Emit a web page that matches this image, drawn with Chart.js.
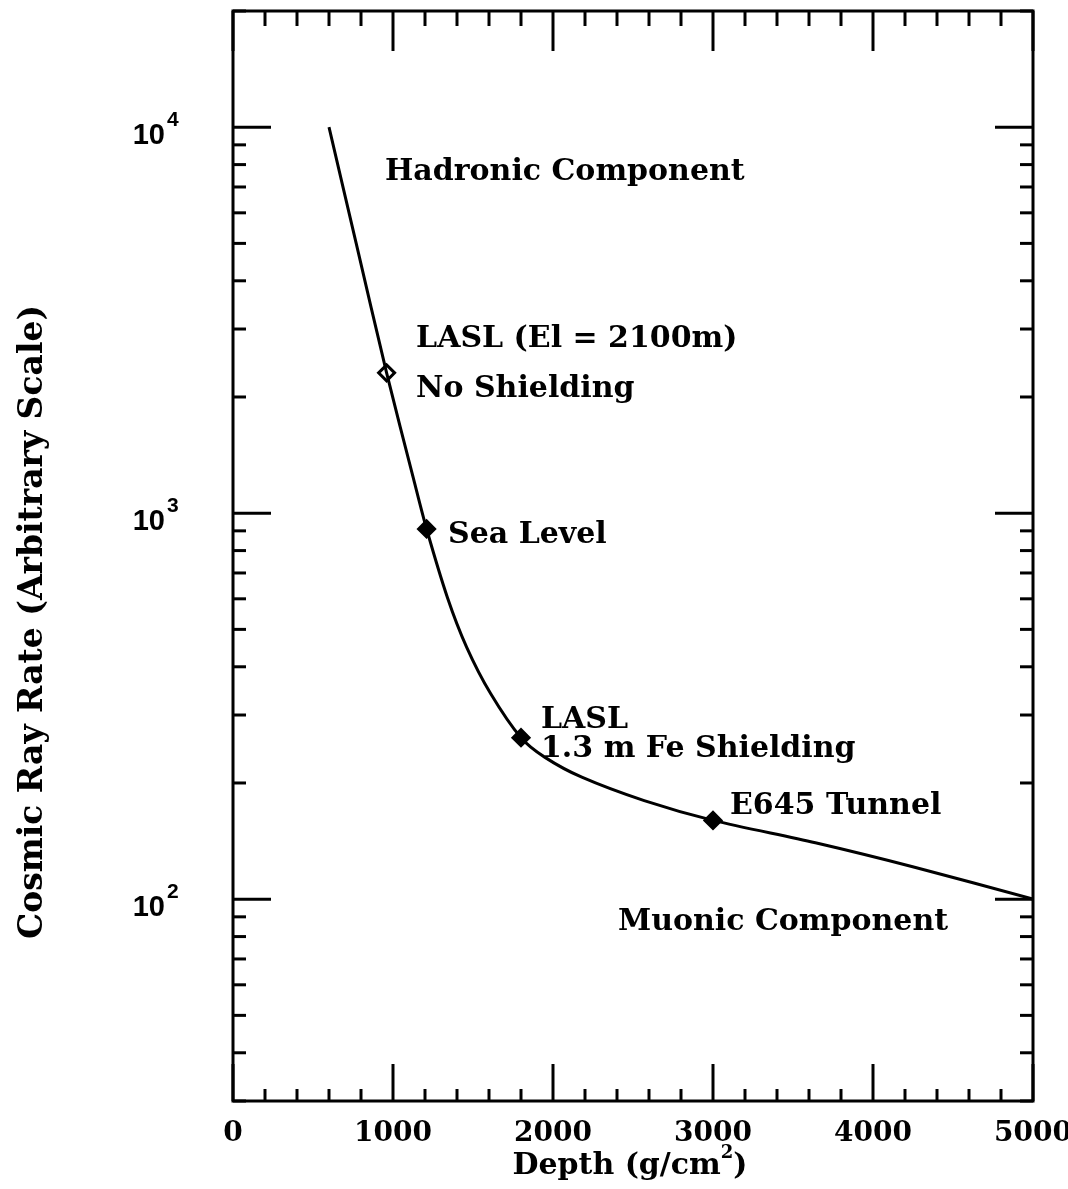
<!DOCTYPE html>
<html>
<head>
<meta charset="utf-8">
<script src="https://cdn.jsdelivr.net/npm/chart.js@4.4.0/dist/chart.umd.min.js"></script>
<style>
  html, body { margin: 0; padding: 0; background: #fff; }
  #wrap { width: 1068px; height: 1189px; }
</style>
</head>
<body>
<div id="wrap"><canvas id="rateChart" width="1068" height="1189"></canvas></div>
<script>
// rate vs. depth curve (depth in g/cm^2, rate in arbitrary units)
var curveDepth = [600, 770, 960, 1130, 1210, 1340, 1460, 1610, 1800, 1950, 2180, 2570, 3000, 3640, 4260, 5000];
var curveRate  = [10000, 5000, 2310, 1220, 910, 605, 450, 341, 262, 233, 207, 180, 160, 140, 121, 100];

// measured sites on the curve
var siteDepth = [960, 1210, 1800, 3000];
var siteRate  = [2310, 910, 262, 160];

var xTickLabels = [0, 1000, 2000, 3000, 4000, 5000];
var yDecades = [2, 3, 4];

// text notes, placed at depth / rate
var noteText  = ['Hadronic Component', 'LASL (El = 2100m)', 'No Shielding', 'Sea Level',
                 'LASL', '1.3 m Fe Shielding', 'E645 Tunnel', 'Muonic Component'];
var noteDepth = [950, 1144, 1144, 1344, 1925, 1925, 3106, 2406];
var noteRate  = [7800, 2880, 2140, 896, 296, 249, 177, 89];

var SERIF = '"DejaVu Serif", serif';
var SANS = '"Liberation Sans", Arial, sans-serif';

function toPoints(xs, ys) {
    return xs.map(function (x, i) { return { x: x, y: ys[i] }; });
}

function line(ctx, x1, y1, x2, y2) {
    ctx.beginPath();
    ctx.moveTo(x1, y1);
    ctx.lineTo(x2, y2);
    ctx.stroke();
}

// frame with inward ticks on all four sides, tick labels, titles and notes
var framePlugin = {
    id: 'frame',
    afterDraw: function (chart) {
        var ctx = chart.ctx;
        var xs = chart.scales.x, ys = chart.scales.y, a = chart.chartArea;
        ctx.save();
        ctx.strokeStyle = '#000';
        ctx.fillStyle = '#000';
        ctx.lineWidth = 3;
        ctx.lineCap = 'butt';
        ctx.strokeRect(a.left, a.top, a.right - a.left, a.bottom - a.top);

        // x ticks every 200, major every 1000
        for (var v = 0; v <= 5000; v += 200) {
            var px = xs.getPixelForValue(v);
            var major = v % 1000 === 0;
            line(ctx, px, a.bottom, px, a.bottom - (major ? 37 : 12));
            line(ctx, px, a.top, px, a.top + (major ? 40 : 15));
        }

        // log y ticks
        for (var d = 1; d <= 4; d++) {
            for (var k = 1; k <= 9; k++) {
                var val = k * Math.pow(10, d);
                if (val < ys.min || val > ys.max) continue;
                var py = ys.getPixelForValue(val);
                var len = k === 1 ? 38 : 13;
                line(ctx, a.left, py, a.left + len, py);
                line(ctx, a.right, py, a.right - len, py);
            }
        }

        // x tick labels
        ctx.font = 'bold 28px ' + SERIF;
        ctx.textAlign = 'center';
        ctx.textBaseline = 'alphabetic';
        xTickLabels.forEach(function (t) {
            ctx.fillText(String(t), xs.getPixelForValue(t), a.bottom + 40);
        });

        // y tick labels 10^n
        yDecades.forEach(function (n) {
            var py = ys.getPixelForValue(Math.pow(10, n));
            ctx.textAlign = 'right';
            ctx.font = 'bold 29px ' + SANS;
            ctx.fillText('10', a.left - 68, py + 17);
            ctx.textAlign = 'left';
            ctx.font = 'bold 21px ' + SANS;
            ctx.fillText(String(n), a.left - 66, py - 1);
        });

        // axis titles
        ctx.font = 'bold 30px ' + SERIF;
        ctx.textAlign = 'left';
        var xt = 'Depth (g/cm';
        var w1 = ctx.measureText(xt).width;
        ctx.font = 'bold 18px ' + SERIF;
        var w2 = ctx.measureText('2').width;
        ctx.font = 'bold 30px ' + SERIF;
        var x0 = 630 - (w1 + w2 + ctx.measureText(')').width) / 2;
        ctx.fillText(xt, x0, 1174);
        ctx.font = 'bold 18px ' + SERIF;
        ctx.fillText('2', x0 + w1, 1158);
        ctx.font = 'bold 30px ' + SERIF;
        ctx.fillText(')', x0 + w1 + w2, 1174);

        ctx.save();
        ctx.translate(42, 622);
        ctx.rotate(-Math.PI / 2);
        ctx.textAlign = 'center';
        ctx.font = 'bold 33px ' + SERIF;
        ctx.fillText('Cosmic Ray Rate (Arbitrary Scale)', 0, 0);
        ctx.restore();

        // notes
        ctx.font = 'bold 30px ' + SERIF;
        ctx.textAlign = 'left';
        noteText.forEach(function (t, i) {
            ctx.fillText(t, xs.getPixelForValue(noteDepth[i]), ys.getPixelForValue(noteRate[i]) + 11);
        });
        ctx.restore();
    }
};

var ctx = document.getElementById('rateChart');
var rateChart = new Chart(ctx, {
    type: 'scatter',
    data: {
        datasets: [{
            data: toPoints(curveDepth, curveRate),
            showLine: true,
            borderColor: '#000',
            borderWidth: 3,
            pointRadius: 0,
            tension: 0.3
        }, {
            data: toPoints(siteDepth, siteRate),
            showLine: false,
            pointStyle: 'rectRot',
            pointRadius: 8,
            borderWidth: 3,
            borderColor: '#000',
            backgroundColor: ['#fff', '#000', '#000', '#000']
        }]
    },
    options: {
        responsive: false,
        animation: false,
        devicePixelRatio: 1,
        layout: { padding: { left: 233, right: 35, top: 10, bottom: 88 } },
        plugins: {
            legend: { display: false },
            tooltip: { enabled: false }
        },
        scales: {
            x: { type: 'linear', min: 0, max: 5000, display: false },
            y: { type: 'logarithmic', min: 30, max: 20000, display: false }
        }
    },
    plugins: [framePlugin]
});
</script>
</body>
</html>
